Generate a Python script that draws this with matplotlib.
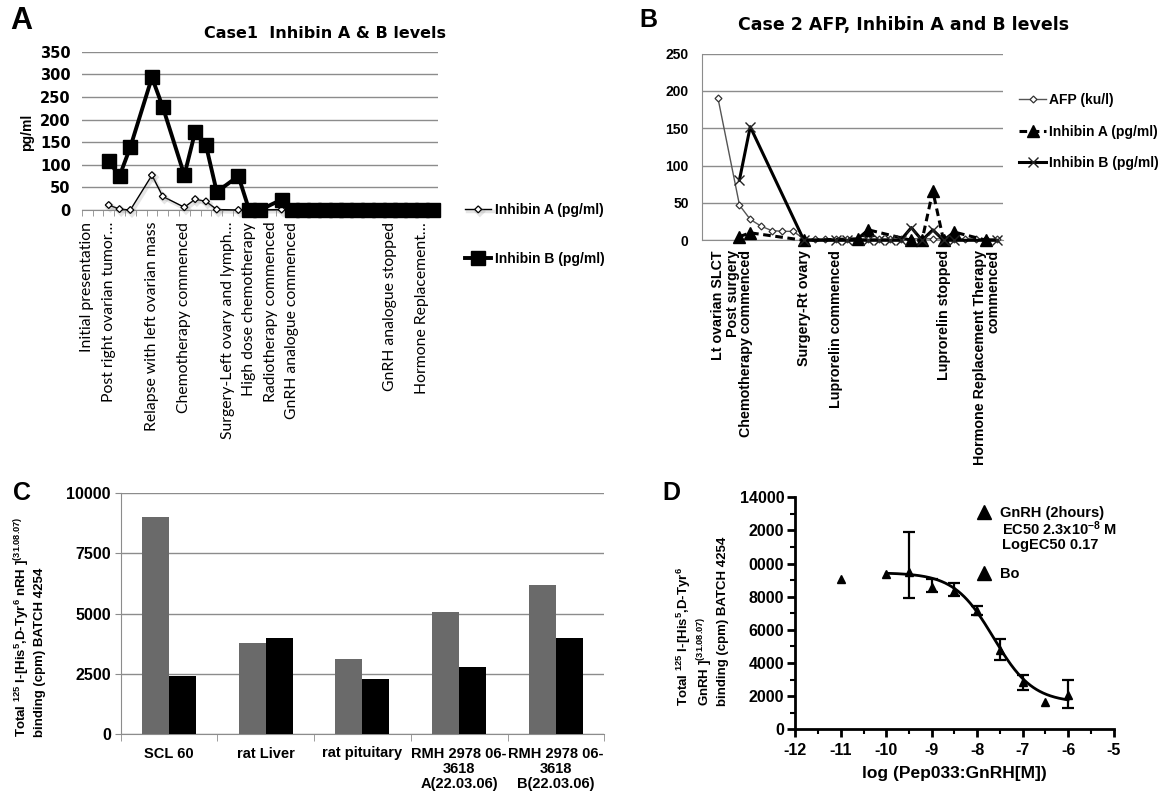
import numpy as np
import matplotlib
matplotlib.use("Agg")
import matplotlib.pyplot as plt
from matplotlib.lines import Line2D
from matplotlib.ticker import FixedLocator, FixedFormatter
import matplotlib.patheffects as pe

plt.rcParams['mathtext.fontset'] = 'custom'
plt.rcParams['mathtext.rm'] = 'Liberation Sans'
plt.rcParams['mathtext.bf'] = 'Liberation Sans:bold'
plt.rcParams['mathtext.it'] = 'Liberation Sans:italic'
plt.rcParams['axes.unicode_minus'] = False

W, H = 1165, 794
HEAVY = 'DejaVu Sans'
ARIAL = 'Liberation Sans'
CALIBRI = ['Lato', 'DejaVu Sans']

# ---------------- Panel A data ----------------
a_title = "Case1  Inhibin A & B levels"
a_labels = ["Initial presentation", "", "Post right ovarian tumor\u2026", "", "", "",
            "Relapse with left ovarian mass", "", "", "Chemotherapy commenced", "", "", "",
            "Surgery-Left ovary and lymph\u2026", "", "High dose chemotherapy", "",
            "Radiotherapy commenced", "", "GnRH analogue commenced", "", "", "", "", "", "",
            "", "", "GnRH analogue stopped", "", "", "Hormone Replacement\u2026", ""]
a_inhibin_a = [None, None, 11, 2, 0, None, 77, 30, None, 6, 24, 19, 1, None, 0, None,
               None, None, 1, None, None, None, None, None, None, None, None, None, None,
               None, None, None, None]
a_inhibin_b = [None, None, 108, 75, 139, None, 293, 228, None, 77, 173, 143, 40, None, 75,
               0, 0, None, 23, 0, 0, 0, 0, 0, 0, 0, 0, 0, 0, 0, 0, 0, 0]
a_series = ["Inhibin A (pg/ml)", "Inhibin B (pg/ml)"]
a_yticks = [0, 50, 100, 150, 200, 250, 300, 350]

# ---------------- Panel B data ----------------
b_title = "Case 2 AFP, Inhibin A and B levels"
b_labels = ["", "Lt ovarian SLCT", "", "Post surgery\nChemotherapy commenced", "", "", "", "",
            "", "Surgery-Rt ovary", "", "", "Luprorelin commenced", "", "", "", "", "", "",
            "", "", "", "Luprorelin stopped", "", "", "",
            "Hormone Replacement Therapy\ncommenced", ""]
b_afp = [None, 190, None, 47, 28, 19, 13, 12, 12, 2, 2, 2, 2, 2, 2, 2, 2, 2, 2, 2, 2, 2, 2,
         2, 2, 2, 2, 2]
b_inhibin_a = [None, None, None, 5, 10, None, None, None, None, 0, None, None, None, None, 2,
               14, None, None, None, 0, 0, 66, 0, 11, None, None, 0, None]
b_inhibin_b = [None, None, None, 81, 152, None, None, None, None, 0, None, None, 0, 0, None,
               0, 0, 0, 0, 17, 0, 14, 0, 0, None, None, None, 0]
b_series = ["AFP (ku/l)", "Inhibin A (pg/ml)", "Inhibin B (pg/ml)"]
b_yticks = [0, 50, 100, 150, 200, 250]

# ---------------- Panel C data ----------------
c_categories = ["SCL 60", "rat Liver", "rat pituitary", "RMH 2978 06-\n3618\nA(22.03.06)",
                "RMH 2978 06-\n3618\nB(22.03.06)"]
c_gray = [9000, 3800, 3100, 5050, 6200]
c_black = [2400, 4000, 2300, 2800, 4000]
c_yticks = [0, 2500, 5000, 7500, 10000]

# ---------------- Panel D data ----------------
d_x = [-11, -10, -9.5, -9, -8.5, -8, -7.5, -7, -6.5, -6]
d_y = [9050, 9400, 9500, 8600, 8350, 7150, 4800, 2850, 1650, 2050]
d_err_low = [None, None, 1550, 300, 300, 250, 600, 500, None, 780]
d_err_high = [None, None, 2400, 500, 450, 300, 650, 450, None, 930]
d_fit_top, d_fit_bottom, d_fit_logec50, d_fit_hill = 9450, 1600, -7.64, 1.0
d_fit_range = (-10, -6)
d_xticks = [-12, -11, -10, -9, -8, -7, -6, -5]
d_yticks = [0, 2000, 4000, 6000, 8000, 10000, 12000, 14000]
d_yticklabels = ["0", "2000", "4000", "6000", "8000", "0000", "2000", "14000"]


def arr(v):
    return np.array([np.nan if e is None else e for e in v], float)


def box(l, t, r, b):
    return [l / W, 1 - b / H, (r - l) / W, (b - t) / H]


def fxy(x, y):
    return (x / W, 1 - y / H)


fig = plt.figure(figsize=(W / 100, H / 100), dpi=100)
GRID = '#8c8c8c'

# ================= Panel A =================
axA = fig.add_axes(box(81.7, 51.7, 438.3, 210))
xa = np.arange(len(a_labels))
ya, yb = arr(a_inhibin_a), arr(a_inhibin_b)
ma, mb = ~np.isnan(ya), ~np.isnan(yb)
lA, = axA.plot(xa[ma], ya[ma], color='black', lw=1.0, marker='D', ms=3.5, mfc='white',
               mec='black', mew=0.9, label=a_series[0], zorder=3, clip_on=False,
               path_effects=[pe.SimpleLineShadow(offset=(1.2, -1.5), shadow_color='0.5',
                                                 alpha=0.2, linewidth=2.5), pe.Normal()])
lB, = axA.plot(xa[mb], yb[mb], color='black', lw=2.8, marker='s', ms=9.5, mfc='black',
               mec='black', label=a_series[1], zorder=4, clip_on=False)
axA.set_xlim(-0.5, len(a_labels) - 0.5)
axA.set_ylim(0, 350)
axA.set_yticks(a_yticks)
axA.set_yticklabels([str(v) for v in a_yticks], fontfamily=HEAVY, fontweight='bold',
                    fontsize=10.5)
axA.yaxis.grid(True, color=GRID, lw=1)
axA.set_axisbelow(True)
for s in ['left', 'top', 'right']:
    axA.spines[s].set_visible(False)
axA.spines['bottom'].set_color(GRID)
axA.tick_params(axis='y', length=0, pad=8)
axA.set_xticks(xa)
axA.set_xticklabels(a_labels, rotation=90, fontfamily=CALIBRI, fontsize=11.3)
axA.set_xticks(np.arange(-0.5, len(a_labels)), minor=True)
axA.tick_params(axis='x', which='major', length=0, pad=8.5)
axA.tick_params(axis='x', which='minor', length=4, color=GRID, direction='out')
fig.legend(handles=[lA, lB], loc='center left', bbox_to_anchor=fxy(465, 234.6),
           frameon=False, prop=dict(family=ARIAL, weight='bold', size=10),
           handlelength=1.9, handletextpad=0.25, labelspacing=2.5, borderpad=0,
           borderaxespad=0)
fig.text(*fxy(21, 21), 'A', fontsize=22, fontweight='bold', family=ARIAL, ha='center',
         va='center')
fig.text(*fxy(325, 33.3), a_title, family=HEAVY, weight='bold', size=11.5, ha='center',
         va='center')
fig.text(*fxy(26.7, 132.5), 'pg/ml', family=ARIAL, weight='bold', size=10, rotation=90,
         ha='center', va='center')

# ================= Panel B =================
axB = fig.add_axes(box(701.9, 53.5, 1002.6, 240.3))
xb = np.arange(len(b_labels))
s1, s2, s3 = arr(b_afp), arr(b_inhibin_a), arr(b_inhibin_b)
m1, m2, m3 = ~np.isnan(s1), ~np.isnan(s2), ~np.isnan(s3)
hB1, = axB.plot(xb[m1], s1[m1], color='#555555', lw=1.0, marker='D', ms=3.5, mfc='white',
                mec='#333333', mew=0.9, label=b_series[0], zorder=3, clip_on=False)
hB2, = axB.plot(xb[m2], s2[m2], color='black', lw=2.2, ls=(0, (2.5, 1.5)), marker='^',
                ms=9, mfc='black', mec='black', label=b_series[1], zorder=4, clip_on=False)
hB3, = axB.plot(xb[m3], s3[m3], color='black', lw=2.2, marker='x', ms=7.5, mew=1.0,
                mec='#222222', label=b_series[2], zorder=5, clip_on=False)
axB.set_xlim(-0.5, len(b_labels) - 0.5)
axB.set_ylim(0, 250)
axB.set_yticks(b_yticks)
axB.set_yticklabels([str(v) for v in b_yticks], fontfamily=ARIAL, fontweight='bold',
                    fontsize=10)
axB.yaxis.grid(True, color=GRID, lw=1)
axB.set_axisbelow(True)
for s in ['top', 'right']:
    axB.spines[s].set_visible(False)
axB.spines['bottom'].set_color(GRID)
axB.spines['left'].set_color(GRID)
axB.tick_params(axis='y', length=0, pad=9.5)
axB.set_xticks(xb)
axB.set_xticklabels(b_labels, rotation=90, fontfamily=ARIAL, fontweight='bold',
                    fontsize=10.3, multialignment='right', linespacing=0.95)
axB.tick_params(axis='x', length=0, pad=7)
fig.legend(handles=[hB1, hB2, hB3], loc='center left', bbox_to_anchor=fxy(1018.7, 131.7),
           frameon=False, prop=dict(family=ARIAL, weight='bold', size=10),
           handlelength=2.0, handletextpad=0.15, labelspacing=1.25, borderpad=0,
           borderaxespad=0)
fig.text(*fxy(648.5, 20), 'B', fontsize=18, fontweight='bold', family=ARIAL, ha='center',
         va='center')
fig.text(*fxy(904, 25), b_title, family=HEAVY, weight='bold', size=12.5, ha='center',
         va='center')

# ================= Panel C =================
axC = fig.add_axes(box(120.5, 493.3, 604.3, 734))
xc = np.arange(len(c_categories))
axC.bar(xc - 0.14, c_gray, width=0.28, color='#6a6a6a', zorder=3)
axC.bar(xc + 0.14, c_black, width=0.28, color='black', zorder=3)
axC.set_xlim(-0.5, len(c_categories) - 0.5)
axC.set_ylim(0, 10000)
axC.set_yticks(c_yticks)
axC.set_yticklabels([str(v) for v in c_yticks], fontfamily=ARIAL, fontweight='bold',
                    fontsize=11.5)
axC.yaxis.grid(True, color=GRID, lw=1)
axC.set_axisbelow(True)
for s in ['top', 'right']:
    axC.spines[s].set_visible(False)
axC.spines['bottom'].set_color(GRID)
axC.spines['left'].set_color(GRID)
axC.tick_params(axis='y', length=4, color=GRID, pad=3)
axC.set_xticks(xc)
axC.set_xticklabels(c_categories, fontfamily=ARIAL, fontweight='bold', fontsize=10.5,
                    linespacing=1.1)
axC.set_xticks(np.arange(-0.5, len(c_categories)), minor=True)
axC.tick_params(axis='x', which='major', length=0, pad=9)
axC.tick_params(axis='x', which='minor', length=5, color=GRID)
fig.text(*fxy(22, 493.5), 'C', fontsize=18, fontweight='bold', family=ARIAL, ha='center',
         va='center')
fig.text(*fxy(29.5, 626.5),
         "Total $^{\\mathbf{125}}$ I-[His$^{\\mathbf{5}}$,D-Tyr$^{\\mathbf{6}}$ nRH ]"
         "$^{\\mathbf{(31.08.07)}}$\nbinding (cpm) BATCH 4254",
         family=ARIAL, weight='bold', size=9.5, rotation=90, ha='center', va='center',
         multialignment='left')

# ================= Panel D =================
axD = fig.add_axes(box(795.3, 497.3, 1113.6, 729.3))
xs = np.linspace(d_fit_range[0], d_fit_range[1], 300)
fit = d_fit_bottom + (d_fit_top - d_fit_bottom) / (1 + 10 ** ((xs - d_fit_logec50) * d_fit_hill))
axD.plot(xs, fit, color='black', lw=2, zorder=3)
lo, hi = arr(d_err_low), arr(d_err_high)
me = ~np.isnan(lo)
dx, dy = np.array(d_x, float), np.array(d_y, float)
axD.errorbar(dx[me], dy[me], yerr=[lo[me], hi[me]], fmt='none', ecolor='black',
             elinewidth=1.6, capsize=4, capthick=1.6, zorder=4)
axD.plot(dx, dy, ls='none', marker='^', ms=6, color='black', zorder=5, clip_on=False)
axD.set_xlim(-12, -5)
axD.set_ylim(0, 14000)
axD.xaxis.set_major_locator(FixedLocator(d_xticks))
axD.xaxis.set_minor_locator(FixedLocator(np.arange(-12, -4.9, 0.5)))
axD.yaxis.set_major_locator(FixedLocator(d_yticks))
axD.yaxis.set_major_formatter(FixedFormatter(d_yticklabels))
axD.yaxis.set_minor_locator(FixedLocator(np.arange(0, 14001, 1000)))
for s in ['top', 'right']:
    axD.spines[s].set_visible(False)
for s in ['left', 'bottom']:
    axD.spines[s].set_linewidth(2)
axD.tick_params(which='major', length=6, width=2, direction='out')
axD.tick_params(which='minor', length=3.5, width=1.5, direction='out')
axD.tick_params(axis='x', which='major', pad=4)
axD.tick_params(axis='y', which='major', pad=2)
for lab in axD.get_xticklabels() + axD.get_yticklabels():
    lab.set_fontfamily(ARIAL)
    lab.set_fontweight('bold')
    lab.set_fontsize(11.5)
hD1 = Line2D([], [], ls='none', marker='^', ms=10, color='black')
hD2 = Line2D([], [], ls='none', marker='^', ms=10, color='black')
axD.legend(handles=[hD1, hD2], labels=["GnRH (2hours)", "Bo"], loc='center left',
           bbox_to_anchor=fxy(977, 543.4), bbox_transform=fig.transFigure, frameon=False,
           prop=dict(family=ARIAL, weight='bold', size=10.5), handlelength=1.0,
           handletextpad=0.6, labelspacing=3.2, borderpad=0, borderaxespad=0)
fig.text(*fxy(1001.5, 528.3), "EC50 2.3x10$^{\\mathbf{-8}}$ M", family=ARIAL, weight='bold',
         size=10.5, ha='left', va='center')
fig.text(*fxy(1001.5, 545), "LogEC50 0.17", family=ARIAL, weight='bold', size=10.5,
         ha='left', va='center')
fig.text(*fxy(954.4, 773.3), "log (Pep033:GnRH[M])", family=ARIAL, weight='bold',
         size=12.5, ha='center', va='center')
fig.text(*fxy(702, 621),
         "Total $^{\\mathbf{125}}$ I-[His$^{\\mathbf{5}}$,D-Tyr$^{\\mathbf{6}}$\n"
         "GnRH ]$^{\\mathbf{(31.08.07)}}$\nbinding (cpm) BATCH 4254",
         family=ARIAL, weight='bold', size=9.5, rotation=90, ha='center', va='center',
         multialignment='left')
fig.text(*fxy(671.5, 493.5), 'D', fontsize=18, fontweight='bold', family=ARIAL,
         ha='center', va='center')

fig.savefig('out.png', dpi=100)
